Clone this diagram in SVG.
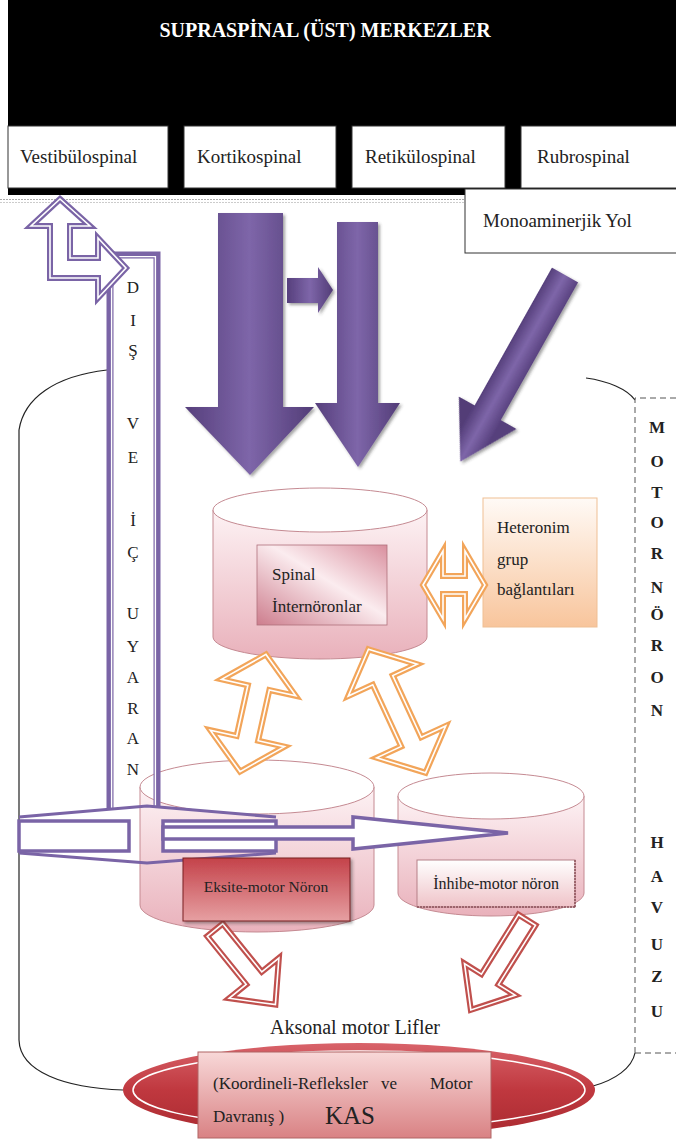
<svg xmlns="http://www.w3.org/2000/svg" width="676" height="1143" viewBox="0 0 676 1143">
<defs>
<style>
.t{font-family:"Liberation Serif","Times New Roman",serif;fill:#222}
.box{fill:#fff;stroke:#333;stroke-width:1}
.po{fill:#fff;stroke:#7a64a6;stroke-width:6;stroke-miterlimit:4}
.pl{fill:none;stroke:#7a64a6;stroke-width:3}
.pi{fill:none;stroke:#fff;stroke-width:1.6}
.oo{fill:#fff;stroke:#f2a55a;stroke-width:6}
.ro{fill:#fff;stroke:#c0504d;stroke-width:6}
.v{font-size:17px;text-anchor:middle}
.m{font-size:17px;font-weight:bold;text-anchor:middle}
.cyl{stroke:#c58a92;stroke-width:1}
</style>
<linearGradient id="purpleH" x1="0" y1="0" x2="1" y2="0">
<stop offset="0" stop-color="#563f7c"/><stop offset="0.5" stop-color="#7e66a9"/><stop offset="1" stop-color="#523c77"/>
</linearGradient>
<linearGradient id="purpleD" x1="0" y1="0" x2="0" y2="1">
<stop offset="0.25" stop-color="#563f7c"/><stop offset="0.5" stop-color="#7e66a9"/><stop offset="0.75" stop-color="#523c77"/>
</linearGradient>
<linearGradient id="cylG" x1="0" y1="0" x2="0" y2="1">
<stop offset="0" stop-color="#fdf2f4"/><stop offset="1" stop-color="#e9b1bb"/>
</linearGradient>
<linearGradient id="spinBox" x1="0" y1="1" x2="1" y2="0">
<stop offset="0" stop-color="#cd7d8d"/><stop offset="0.55" stop-color="#fbecef"/><stop offset="1" stop-color="#d98f9e"/>
</linearGradient>
<linearGradient id="hetG" x1="0" y1="0" x2="0" y2="1">
<stop offset="0" stop-color="#fffaf6"/><stop offset="1" stop-color="#f8c59c"/>
</linearGradient>
<linearGradient id="eksG" x1="0" y1="0" x2="0" y2="1">
<stop offset="0" stop-color="#c4424a"/><stop offset="1" stop-color="#e6a0a2"/>
</linearGradient>
<linearGradient id="inhG" x1="0" y1="0" x2="0" y2="1">
<stop offset="0" stop-color="#ffffff"/><stop offset="1" stop-color="#efc3c8"/>
</linearGradient>
<linearGradient id="kasE" x1="0" y1="0" x2="0" y2="1">
<stop offset="0" stop-color="#d8636a"/><stop offset="0.5" stop-color="#c0383f"/><stop offset="1" stop-color="#a92a30"/>
</linearGradient>
<linearGradient id="kasB" x1="0" y1="0" x2="0" y2="1">
<stop offset="0" stop-color="#f8d8d8"/><stop offset="1" stop-color="#d98284"/>
</linearGradient>
<filter id="sh" x="-20%" y="-20%" width="140%" height="140%">
<feDropShadow dx="2" dy="2" stdDeviation="1.5" flood-color="#333" flood-opacity="0.45"/>
</filter>
</defs>
<rect width="676" height="1143" fill="#fff"/>

<g id="supraspinal">
<rect x="8" y="0" width="668" height="195" fill="#000"/>
<text class="t" x="325" y="37" font-size="20" font-weight="bold" text-anchor="middle" style="fill:#fff">SUPRASPİNAL (ÜST) MERKEZLER</text>
</g>
<g id="vestibulospinal"><rect class="box" x="8" y="126" width="160" height="62"/><text class="t" x="20" y="163" font-size="19">Vestibülospinal</text></g>
<g id="kortikospinal"><rect class="box" x="184" y="126" width="152" height="62"/><text class="t" x="197" y="163" font-size="19">Kortikospinal</text></g>
<g id="retikulospinal"><rect class="box" x="352" y="126" width="153" height="62"/><text class="t" x="365" y="163" font-size="19">Retikülospinal</text></g>
<g id="rubrospinal"><rect class="box" x="521" y="126" width="160" height="62"/><text class="t" x="537" y="163" font-size="19">Rubrospinal</text></g>
<g id="monoaminerjik"><rect class="box" x="465" y="189" width="215" height="64"/><text class="t" x="483" y="227" font-size="19">Monoaminerjik Yol</text></g>

<g id="separator">
<line x1="0" y1="199.5" x2="465" y2="199.5" stroke="#aaa" stroke-dasharray="2 1"/>
<line x1="0" y1="202.5" x2="465" y2="202.5" stroke="#ccc" stroke-dasharray="2 1"/>
</g>

<g id="motor-pool">
<path d="M107,370 C55,376 24,398 19,430 L19,1040 C20,1072 65,1088 123,1090" fill="none" stroke="#222" stroke-width="1.2"/>
<path d="M586,378 C608,381 627,389 635,400" fill="none" stroke="#222" stroke-width="1.2"/>
<path d="M593,1086 C615,1080 632,1068 635,1053" fill="none" stroke="#222" stroke-width="1.2"/>
<path d="M635,1053 V398 H676 M635,1053 H676" fill="none" stroke="#555" stroke-width="1" stroke-dasharray="6 4"/>
<g class="t">
<text class="m" x="657" y="433">M</text><text class="m" x="657" y="467">O</text><text class="m" x="657" y="498">T</text><text class="m" x="657" y="528">O</text><text class="m" x="657" y="559">R</text>
<text class="m" x="657" y="593">N</text><text class="m" x="657" y="620">Ö</text><text class="m" x="657" y="651">R</text><text class="m" x="657" y="683">O</text><text class="m" x="657" y="716">N</text>
<text class="m" x="657" y="848">H</text><text class="m" x="657" y="882">A</text><text class="m" x="657" y="913">V</text><text class="m" x="657" y="950">U</text><text class="m" x="657" y="982">Z</text><text class="m" x="657" y="1017">U</text>
</g>
</g>

<g id="spinal-interneurons">
<path class="cyl" d="M213,510 V637 A107,22 0 0 0 427,637 V510 Z" fill="url(#cylG)"/>
<ellipse class="cyl" cx="320" cy="510" rx="107" ry="22" fill="#fff"/>
<rect x="257" y="545" width="130" height="80" fill="url(#spinBox)" stroke="#b0707c" stroke-width="0.8"/>
<text class="t" x="272" y="580" font-size="17">Spinal</text>
<text class="t" x="272" y="612" font-size="17">İnternöronlar</text>
</g>

<g id="heteronim">
<rect x="483" y="498" width="114" height="129" fill="url(#hetG)" stroke="#efbf94" stroke-width="1"/>
<text class="t" x="497" y="533" font-size="17">Heteronim</text>
<text class="t" x="497" y="565" font-size="17">grup</text>
<text class="t" x="497" y="595" font-size="17">bağlantıları</text>
</g>

<g id="eksite-cylinder">
<path class="cyl" d="M140,787 V905 A117,27 0 0 0 374,905 V787 Z" fill="url(#cylG)"/>
<ellipse class="cyl" cx="257" cy="787" rx="117" ry="27" fill="#fff"/>
</g>
<g id="inhibe-cylinder">
<path class="cyl" d="M398,796 V893 A93,23 0 0 0 584,893 V796 Z" fill="url(#cylG)"/>
<ellipse class="cyl" cx="491" cy="796" rx="93" ry="23" fill="#fff"/>
</g>

<g id="dis-ic-uyaran">
<path d="M110,810 V255 H157 V806" fill="none" stroke="#7a64a6" stroke-width="7"/>
<path d="M111.6,809 V256.6 H155.4 V806" fill="none" stroke="#fff" stroke-width="1.4"/>
<g class="t">
<text class="v" x="133" y="293">D</text><text class="v" x="133" y="326">I</text><text class="v" x="133" y="356">Ş</text>
<text class="v" x="133" y="429">V</text><text class="v" x="133" y="463">E</text>
<text class="v" x="133" y="526">İ</text><text class="v" x="133" y="558">Ç</text>
<text class="v" x="133" y="619">U</text><text class="v" x="133" y="652">Y</text><text class="v" x="133" y="683">A</text><text class="v" x="133" y="714">R</text><text class="v" x="133" y="744">A</text><text class="v" x="133" y="775">N</text>
</g>
</g>

<g id="connectors">
<path class="po" d="M60,199 L90,226 L70,226 L70,258 L98,258 L98,238 L126,268 L98,298 L98,278 L50,278 L50,226 L31,226 Z"/>
<path class="pi" d="M60,199 L90,226 L70,226 L70,258 L98,258 L98,238 L126,268 L98,298 L98,278 L50,278 L50,226 L31,226 Z"/>
<polyline class="pl" points="19,817 147,806 276,817"/>
<polyline class="pl" points="19,853 147,863 276,853"/>
<rect x="19" y="821" width="110" height="30" fill="#fff" stroke="#7a64a6" stroke-width="3.5"/>
<rect x="163" y="821" width="113" height="30" fill="#fff" stroke="#7a64a6" stroke-width="3.5"/>
<path d="M163,827 L353,827 L353,817 L508,833 L353,849 L353,839 L163,839 Z" fill="#fff" stroke="#7a64a6" stroke-width="3.5"/>

<g filter="url(#sh)">
<path fill="url(#purpleH)" d="M218,213 H283 V407 H314 L250,475 L185,407 H218 Z"/>
<path fill="url(#purpleH)" d="M337,222 H378 V403 H400 L358,467 L315,403 H337 Z"/>
<path fill="url(#purpleH)" d="M287,278 H318 V267 L333,290 L318,313 V303 H287 Z"/>
<path fill="url(#purpleD)" transform="translate(565,275) rotate(119.3)" d="M0,-15 H158 V-33 L214,0 L158,33 V15 H0 Z"/>
</g>

<g transform="translate(253,713) rotate(12.5)">
<path class="oo" d="M0,-60 L38,-26 L11,-26 L11,26 L38,26 L0,60 L-38,26 L-11,26 L-11,-26 L-38,-26 Z"/>
<path class="pi" d="M0,-60 L38,-26 L11,-26 L11,26 L38,26 L0,60 L-38,26 L-11,26 L-11,-26 L-38,-26 Z"/>
</g>
<g transform="translate(397,711) rotate(-24.8)">
<path class="oo" d="M0,-68 L38,-34 L11,-34 L11,34 L38,34 L0,68 L-38,34 L-11,34 L-11,-34 L-38,-34 Z"/>
<path class="pi" d="M0,-68 L38,-34 L11,-34 L11,34 L38,34 L0,68 L-38,34 L-11,34 L-11,-34 L-38,-34 Z"/>
</g>
<path class="oo" d="M423,585 L443,551 L443,576 L465,576 L465,551 L485,585 L465,619 L465,594 L443,594 L443,619 Z"/>
<path class="pi" d="M423,585 L443,551 L443,576 L465,576 L465,551 L485,585 L465,619 L465,594 L443,594 L443,619 Z"/>

<g transform="translate(215,930) rotate(51)">
<path class="ro" d="M0,-10 H62 V-32 L96,0 L62,32 V10 H0 Z"/>
<path class="pi" d="M0,-10 H62 V-32 L96,0 L62,32 V10 H0 Z"/>
</g>
<g transform="translate(527,920) rotate(122)">
<path class="ro" d="M0,-10 H70 V-30 L106,0 L70,30 V10 H0 Z"/>
<path class="pi" d="M0,-10 H70 V-30 L106,0 L70,30 V10 H0 Z"/>
</g>
</g>

<g id="eksite-motor">
<rect x="183" y="858" width="167" height="63" fill="url(#eksG)" stroke="#7a1f22" stroke-width="1" filter="url(#sh)"/>
<text class="t" x="266" y="892" font-size="15.5" text-anchor="middle">Eksite-motor Nöron</text>
</g>
<g id="inhibe-motor">
<rect x="417" y="860" width="158" height="47" fill="url(#inhG)" stroke="#b58088" stroke-width="1"/>
<line x1="417" y1="907" x2="575" y2="907" stroke="#8a5058" stroke-width="1.5" stroke-dasharray="2 1"/>
<line x1="575" y1="860" x2="575" y2="907" stroke="#8a5058" stroke-width="1.5" stroke-dasharray="2 1"/>
<text class="t" x="496" y="889" font-size="16" text-anchor="middle">İnhibe-motor nöron</text>
</g>

<g id="aksonal">
<text class="t" x="355" y="1034" font-size="20" text-anchor="middle">Aksonal motor Lifler</text>
</g>

<g id="kas">
<ellipse cx="359" cy="1090" rx="236" ry="47" fill="url(#kasE)"/>
<ellipse cx="359" cy="1090" rx="226" ry="39" fill="none" stroke="#fff" stroke-width="1.5"/>
<rect x="198" y="1052" width="293" height="86" fill="url(#kasB)" stroke="#b06464" stroke-width="1"/>
<text class="t" x="213" y="1089" font-size="17">(Koordineli-Refleksler</text>
<text class="t" x="381" y="1089" font-size="17">ve</text>
<text class="t" x="430" y="1089" font-size="17">Motor</text>
<text class="t" x="213" y="1122" font-size="17">Davranış )</text>
<text class="t" x="325" y="1124" font-size="25">KAS</text>
</g>
</svg>
